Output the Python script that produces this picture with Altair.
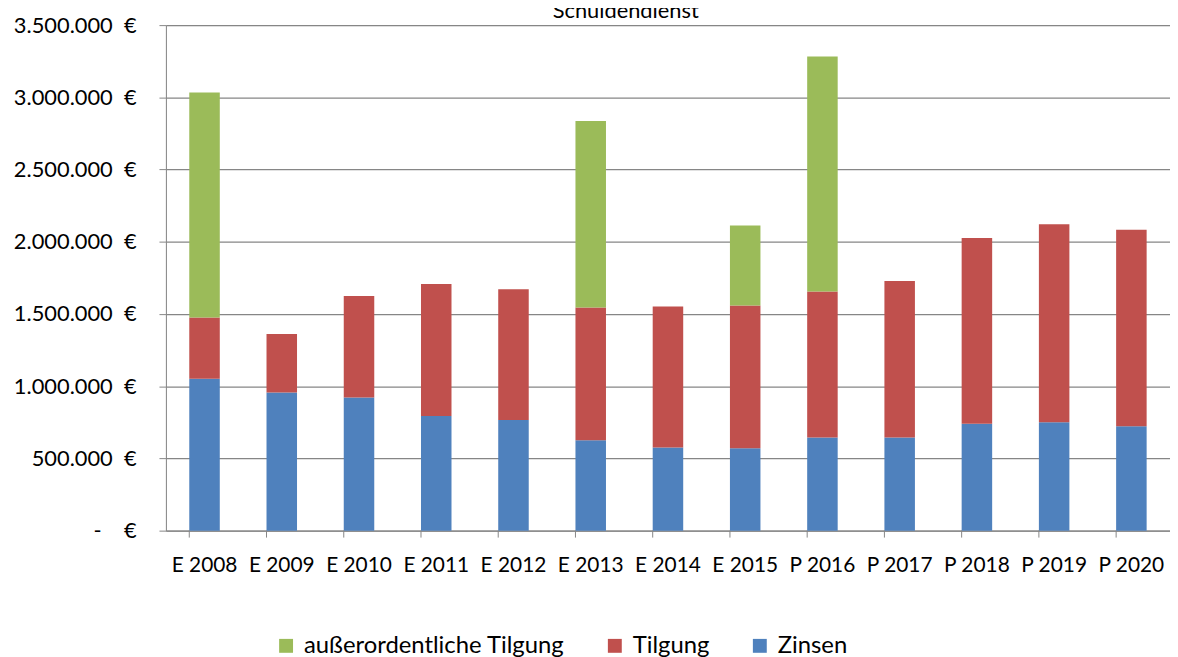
import altair as alt
import pandas as pd

chart_title = "Schuldendienst"
categories = ["E 2008", "E 2009", "E 2010", "E 2011", "E 2012", "E 2013", "E 2014",
              "E 2015", "P 2016", "P 2017", "P 2018", "P 2019", "P 2020"]
zinsen = [1052000, 956000, 922000, 793000, 766000, 626000, 575000,
          571000, 644000, 644000, 740000, 750000, 722000]
tilgung = [424000, 406000, 703000, 915000, 905000, 919000, 977000,
           988000, 1011000, 1084000, 1286000, 1371000, 1362000]
ao_tilgung = [1557000, 0, 0, 0, 0, 1291000, 0,
              553000, 1628000, 0, 0, 0, 0]

series_names = ["außerordentliche Tilgung", "Tilgung", "Zinsen"]
series_colors = ["#9BBB59", "#C0504D", "#4F81BD"]
y_ticks = [0, 500000, 1000000, 1500000, 2000000, 2500000, 3000000, 3500000]

rows = []
for i, c in enumerate(categories):
    for name, vals, o in (("Zinsen", zinsen, 0), ("Tilgung", tilgung, 1),
                          ("außerordentliche Tilgung", ao_tilgung, 2)):
        if vals[i] > 0:
            rows.append({"Jahr": c, "Serie": name, "Wert": vals[i], "ord": o})
df = pd.DataFrame(rows)
tick_df = pd.DataFrame({"Jahr": categories})
title_df = pd.DataFrame({"t": [chart_title]})

NB = "\u00a0"
label_expr = ("datum.value == 0 ? '-" + NB * 4 + "€' : "
              "replace(format(datum.value, ',.0f'), /,/g, '.') + '" + NB * 2 + "€'")

x_scale = alt.Scale(paddingInner=0.605, paddingOuter=0.3025)

bars = alt.Chart(df).mark_bar().encode(
    x=alt.X("Jahr:N", sort=categories, scale=x_scale,
            axis=alt.Axis(title=None, labelAngle=0, ticks=False, tickSize=0,
                          domainColor="#868686", domainWidth=1,
                          labelFont="Lato", labelFontSize=21, labelColor="black",
                          labelPadding=24)),
    y=alt.Y("Wert:Q", stack="zero",
            scale=alt.Scale(domain=[0, 3500000], nice=False),
            axis=alt.Axis(title=None, values=y_ticks, labelExpr=label_expr,
                          tickSize=7, tickColor="#868686", tickWidth=1,
                          domainColor="#868686", domainWidth=1,
                          grid=True, gridColor="#868686", gridWidth=1.2,
                          labelFont="Lato", labelFontSize=22, labelColor="black",
                          labelPadding=23)),
    color=alt.Color("Serie:N",
                    scale=alt.Scale(domain=series_names, range=series_colors),
                    legend=alt.Legend(title=None, orient="none", direction="horizontal",
                                      legendX=109, legendY=613,
                                      symbolType="square", symbolSize=196,
                                      symbolStrokeWidth=0,
                                      labelFont="Lato", labelFontSize=24,
                                      labelColor="black", labelLimit=400,
                                      columnPadding=38, labelOffset=6, padding=0)),
    order=alt.Order("ord:Q", sort="ascending"),
)

ticks = alt.Chart(tick_df).mark_rule(color="#868686", strokeWidth=1).encode(
    x=alt.X("Jahr:N", sort=categories, scale=x_scale, bandPosition=0),
    y=alt.value(509),
    y2=alt.value(516),
)

title_mark = alt.Chart(title_df).mark_text(
    font="Lato", fontSize=22, color="black", align="center", baseline="alphabetic"
).encode(
    text="t:N",
    x=alt.value(463),
    y=alt.value(-7),
)

chart = alt.layer(bars, ticks, title_mark).properties(
    width=1011,
    height=509,
    autosize=alt.AutoSizeParams(type="none"),
    padding={"left": 159, "top": 15, "right": 0, "bottom": 125},
).configure_view(stroke=None).configure(background="white")

chart.save("out.html", embed_options={"renderer": "svg", "actions": False})
